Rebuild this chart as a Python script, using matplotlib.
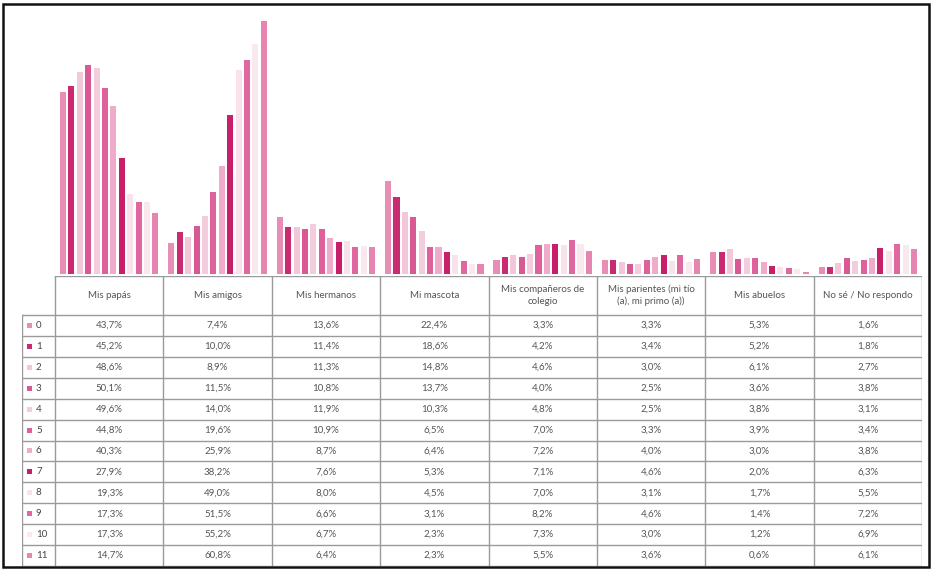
import matplotlib
matplotlib.use("Agg")
import matplotlib.pyplot as plt
import numpy as np
from matplotlib.patches import Rectangle

categories = ["Mis papás", "Mis amigos", "Mis hermanos", "Mi mascota",
              "Mis compañeros de\ncolegio", "Mis parientes (mi tío\n(a), mi primo (a))",
              "Mis abuelos", "No sé / No respondo"]
series_labels = ["0", "1", "2", "3", "4", "5", "6", "7", "8", "9", "10", "11"]

v_papas = [43.7, 45.2, 48.6, 50.1, 49.6, 44.8, 40.3, 27.9, 19.3, 17.3, 17.3, 14.7]
v_amigos = [7.4, 10.0, 8.9, 11.5, 14.0, 19.6, 25.9, 38.2, 49.0, 51.5, 55.2, 60.8]
v_hermanos = [13.6, 11.4, 11.3, 10.8, 11.9, 10.9, 8.7, 7.6, 8.0, 6.6, 6.7, 6.4]
v_mascota = [22.4, 18.6, 14.8, 13.7, 10.3, 6.5, 6.4, 5.3, 4.5, 3.1, 2.3, 2.3]
v_companeros = [3.3, 4.2, 4.6, 4.0, 4.8, 7.0, 7.2, 7.1, 7.0, 8.2, 7.3, 5.5]
v_parientes = [3.3, 3.4, 3.0, 2.5, 2.5, 3.3, 4.0, 4.6, 3.1, 4.6, 3.0, 3.6]
v_abuelos = [5.3, 5.2, 6.1, 3.6, 3.8, 3.9, 3.0, 2.0, 1.7, 1.4, 1.2, 0.6]
v_nosabe = [1.6, 1.8, 2.7, 3.8, 3.1, 3.4, 3.8, 6.3, 5.5, 7.2, 6.9, 6.1]

columns = [v_papas, v_amigos, v_hermanos, v_mascota, v_companeros,
           v_parientes, v_abuelos, v_nosabe]
data = np.array(columns).T  # rows = series, cols = categories

colors = ["#e88db5", "#c92a72", "#f2c7d9", "#da5893", "#f3cddd", "#df619b",
          "#efabc9", "#c81f6b", "#f8e2eb", "#e0679f", "#fae8ef", "#e884b0"]

def fmt(v):
    return ("%.1f%%" % v).replace(".", ",")

W, H = 933, 570
fig = plt.figure(figsize=(W / 100, H / 100), dpi=100)
fig.patch.set_facecolor("white")

def fx(px):
    return px / W

def fy(py):
    return 1 - py / H

# outer frame
frame = Rectangle((fx(3), fy(567)), fx(929) - fx(3), fy(4) - fy(567),
                  transform=fig.transFigure, fill=False, edgecolor="#111111", lw=1.8)
fig.patches.append(frame)

# bar axes
left_px, right_px = 55, 922
top_px, base_px = 18, 274
ax = fig.add_axes([fx(left_px), fy(base_px), fx(right_px) - fx(left_px), fy(top_px) - fy(base_px)])
n_cat = len(categories)
n_ser = len(series_labels)
x = np.arange(n_cat)
group_w = 0.93
slot = group_w / n_ser
for i in range(n_ser):
    offs = -group_w / 2 + slot * (i + 0.5)
    ax.bar(x + offs, data[i], width=slot * 0.72, color=colors[i], linewidth=0)
ax.set_xlim(-0.5, n_cat - 0.5)
ax.set_ylim(0, 61.5)
ax.axis("off")

# table axes
tl, tr, tt, tb = 22, 922, 276, 566
tax = fig.add_axes([fx(tl), fy(tb), fx(tr) - fx(tl), fy(tt) - fy(tb)])
tax.set_xlim(tl, tr)
tax.set_ylim(tb, tt)
tax.axis("off")

label_w_right = 55
header_bottom = 315
col_w = (tr - label_w_right) / n_cat
row_h = (tb - header_bottom) / n_ser
line_col = "#9a9a9a"
text_col = "#555555"
font = ["Lato", "DejaVu Sans"]

# vertical lines
for j in range(n_cat + 1):
    xx = label_w_right + j * col_w
    tax.plot([xx, xx], [tt, tb], color=line_col, lw=1.0)
tax.plot([tl, tl], [header_bottom, tb], color=line_col, lw=1.0)
# horizontal lines
tax.plot([label_w_right, tr], [tt, tt], color=line_col, lw=1.0)
for i in range(n_ser + 1):
    yy = header_bottom + i * row_h
    tax.plot([tl, tr], [yy, yy], color=line_col, lw=1.0)

# headers
for j, c in enumerate(categories):
    cx = label_w_right + (j + 0.5) * col_w
    tax.text(cx, (tt + header_bottom) / 2, c, ha="center", va="center",
             fontsize=7, color=text_col, family=font, linespacing=1.3)

# rows
for i, s in enumerate(series_labels):
    cy = header_bottom + (i + 0.5) * row_h
    tax.add_patch(Rectangle((27, cy - 2.5), 5, 5, facecolor=colors[i], edgecolor="none"))
    tax.text(36, cy, s, ha="left", va="center", fontsize=7, color="#444444", family=font)
    for j in range(n_cat):
        cx = label_w_right + (j + 0.5) * col_w
        tax.text(cx, cy, fmt(data[i, j]), ha="center", va="center",
                 fontsize=7, color=text_col, family=font)

fig.savefig("out.png", dpi=100, facecolor="white")
